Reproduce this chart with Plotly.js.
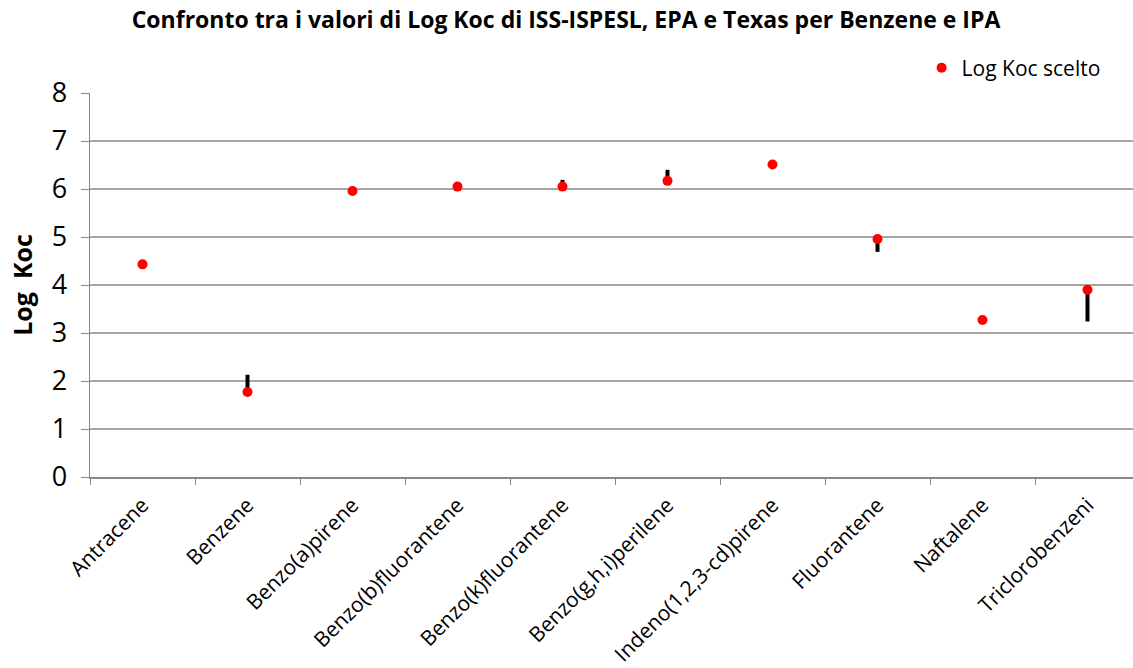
<!DOCTYPE html>
<html><head><meta charset="utf-8">
<script src="https://cdn.plot.ly/plotly-3.0.1.min.js"></script>
<style>html,body{margin:0;padding:0;overflow:hidden;background:#fff}#chart{width:1140px;height:668px}</style>
</head><body><div id="chart"></div>
<script>
var categories = ["Antracene","Benzene","Benzo(a)pirene","Benzo(b)fluorantene","Benzo(k)fluorantene","Benzo(g,h,i)perilene","Indeno(1,2,3-cd)pirene","Fluorantene","Naftalene","Triclorobenzeni"];
var chosen = [4.43, 1.77, 5.96, 6.05, 6.05, 6.17, 6.51, 4.96, 3.27, 3.90];
var highVals = [4.43, 2.13, 5.96, 6.12, 6.19, 6.40, 6.51, 4.96, 3.27, 3.90];
var lowVals  = [4.43, 1.77, 5.96, 6.05, 6.05, 6.17, 6.51, 4.69, 3.27, 3.24];

var hlx = [], hly = [];
for (var i = 0; i < categories.length; i++) {
  hlx.push(categories[i], categories[i], null);
  hly.push(lowVals[i], highVals[i], null);
}
var font = "Open Sans, Liberation Sans, sans-serif";
var traces = [
  {x: hlx, y: hly, mode: "lines", line: {color: "#000", width: 4}, showlegend: false, hoverinfo: "skip"},
  {x: categories, y: chosen, mode: "markers", name: "Log Koc scelto",
   marker: {color: "#ff0000", size: 10}}
];
var layout = {
  width: 1140, height: 668,
  margin: {l: 90, r: 0, t: 93, b: 191},
  paper_bgcolor: "#fff", plot_bgcolor: "#fff",
  title: {text: "<b>Confronto tra i valori di Log Koc di ISS-ISPESL, EPA e Texas per Benzene e IPA</b>",
          font: {family: font, size: 23, color: "#000"}, x: 0.4965, xanchor: "center", xref: "container", y: 0.97, yanchor: "middle"},
  showlegend: true,
  legend: {x: 0.792, y: 1.065, xanchor: "left", yanchor: "middle", font: {family: font, size: 21, color: "#000"},
           bgcolor: "rgba(0,0,0,0)", itemwidth: 30},
  xaxis: {type: "category", tickangle: -45, tickfont: {family: font, size: 21, color: "#000"}, ticklabelstandoff: 6,
          showline: true, linecolor: "#888", linewidth: 1.5, ticks: "outside", ticklen: 6, tickcolor: "#888",
          tickson: "boundaries", showgrid: false, zeroline: false, range: [-0.5, 9.5], automargin: false},
  yaxis: {range: [0, 8], dtick: 1, tickfont: {family: font, size: 27, color: "#000"}, ticklabelstandoff: 8,
          title: {text: "<b>Log  Koc</b>", font: {family: font, size: 25, color: "#000"}, standoff: 12},
          showline: true, linecolor: "#888", linewidth: 1.5, ticks: "outside", ticklen: 8, tickcolor: "#888",
          showgrid: true, gridcolor: "#a6a6a6", gridwidth: 2, zeroline: false, automargin: false}
};
Plotly.newPlot("chart", traces, layout, {displayModeBar: false, staticPlot: true});
</script>
</body></html>
